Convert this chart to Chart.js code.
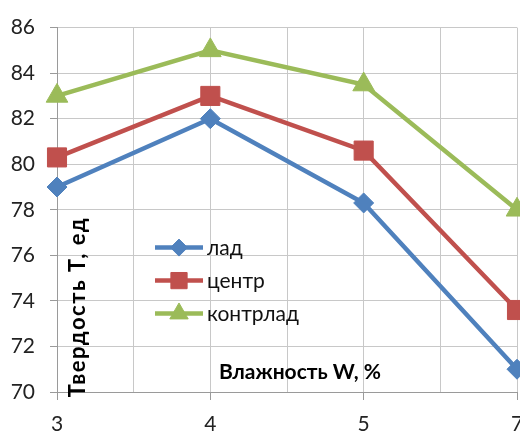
<!DOCTYPE html>
<html>
<head>
<meta charset="utf-8">
<script src="https://cdn.jsdelivr.net/npm/chart.js@4"></script>
<style>
  html, body { margin: 0; padding: 0; background: #fff; overflow: hidden; width: 520px; height: 435px; }
  #wrap { position: absolute; left: 0; top: 0; width: 540px; height: 450px; }
</style>
</head>
<body>
<div id="wrap"><canvas id="c" width="540" height="450"></canvas></div>
<script>
// Moisture levels (x categories) and hardness series
const moisture = ['3', '4', '5', '7'];
const lad = [79, 82, 78.3, 71];
const centr = [80.3, 83, 80.6, 73.6];
const kontrlad = [83, 85, 83.5, 78];
const seriesNames = ['лад', 'центр', 'контрлад'];
const yMin = 70, yMax = 86, yStep = 2;

const FONT = 'Lato, "Liberation Sans", sans-serif';
const colors = ['#4F81BD', '#C0504D', '#9BBB59'];
const styles = [
  { pointStyle: 'rectRot', radius: 10 },
  { pointStyle: 'rect', radius: 13.5 },
  { pointStyle: 'triangle', radius: 12.5 }
];

function toPoints(values) {
  return values.map((v, i) => ({ x: i, y: v }));
}

const datasets = [lad, centr, kontrlad].map((vals, k) => ({
  label: seriesNames[k],
  data: toPoints(vals),
  borderColor: colors[k],
  backgroundColor: colors[k],
  pointBackgroundColor: colors[k],
  pointBorderColor: colors[k],
  pointBorderWidth: 1,
  pointStyle: styles[k].pointStyle,
  pointRadius: styles[k].radius,
  pointHoverRadius: styles[k].radius,
  borderWidth: 4.5,
  tension: 0,
  clip: false
}));

// In-plot legend and axis titles
const overlay = {
  id: 'overlay',
  afterDatasetsDraw(chart) {
    const ctx = chart.ctx;
    const a = chart.chartArea;
    ctx.save();

    // axis titles
    ctx.fillStyle = '#000';
    ctx.textAlign = 'center';
    ctx.textBaseline = 'middle';
    ctx.font = 'bold 21px ' + FONT;
    ctx.fillText('Влажность W, %', a.left + 243, a.bottom - 20);

    ctx.save();
    ctx.translate(a.left + 21, a.bottom - 85);
    ctx.rotate(-Math.PI / 2);
    ctx.font = 'bold 22px ' + FONT;
    if ('letterSpacing' in ctx) ctx.letterSpacing = '1.5px';
    ctx.fillText('Твердость Т, ед', 0, 0);
    ctx.restore();

    // legend
    const lx = a.left + 98, ly = a.top + 220, dy = 33;
    chart.data.datasets.forEach((ds, i) => {
      const y = ly + i * dy;
      ctx.strokeStyle = ds.borderColor;
      ctx.lineWidth = 4.5;
      ctx.beginPath();
      ctx.moveTo(lx, y);
      ctx.lineTo(lx + 48, y);
      ctx.stroke();
      ctx.fillStyle = ds.pointBackgroundColor;
      ctx.strokeStyle = ds.pointBorderColor;
      ctx.lineWidth = 1;
      Chart.helpers.drawPoint(ctx, {
        pointStyle: ds.pointStyle,
        radius: ds.pointRadius * 0.85,
        rotation: 0,
        borderWidth: 1
      }, lx + 24, y);
      ctx.fillStyle = '#111';
      ctx.font = '21px ' + FONT;
      ctx.textAlign = 'left';
      ctx.textBaseline = 'middle';
      ctx.fillText(ds.label, lx + 52, y + 1);
    });
    ctx.restore();
  }
};

new Chart(document.getElementById('c'), {
  type: 'line',
  data: { datasets },
  plugins: [overlay],
  options: {
    responsive: false,
    animation: false,
    events: [],
    layout: { padding: { top: 25, right: 23, bottom: 0, left: 0 } },
    plugins: { legend: { display: false }, tooltip: { enabled: false } },
    scales: {
      x: {
        type: 'linear',
        min: 0,
        max: moisture.length - 1,
        afterFit(scale) { scale.height = 58; },
        afterBuildTicks(scale) {
          const t = [];
          for (let v = 0; v <= moisture.length - 1 + 1e-9; v += 0.5) t.push({ value: v });
          scale.ticks = t;
        },
        grid: {
          color: '#c8c8c8',
          lineWidth: 1,
          tickLength: 8,
          tickColor: (c) => Number.isInteger(c.tick.value) ? '#9a9a9a' : 'rgba(0,0,0,0)'
        },
        border: { color: '#9a9a9a', width: 1 },
        ticks: {
          autoSkip: false,
          maxRotation: 0,
          padding: 12,
          color: '#222',
          font: { family: FONT, size: 21 },
          callback: (v) => Number.isInteger(v) ? moisture[v] : ''
        }
      },
      y: {
        min: yMin,
        max: yMax,
        afterFit(scale) { scale.width = 57; },
        grid: { color: '#c8c8c8', lineWidth: 1, tickLength: 7, tickColor: '#9a9a9a' },
        border: { color: '#9a9a9a', width: 1 },
        ticks: {
          stepSize: yStep,
          padding: 15,
          color: '#222',
          font: { family: FONT, size: 21 }
        }
      }
    }
  }
});
</script>
</body>
</html>
